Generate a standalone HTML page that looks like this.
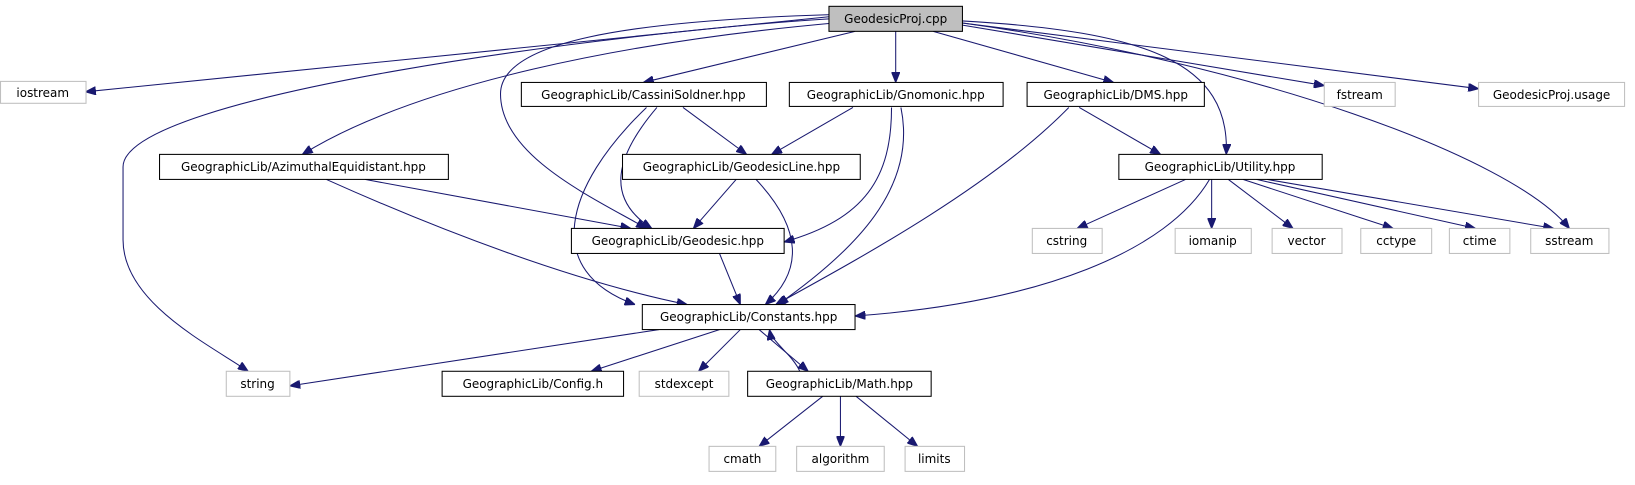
<!DOCTYPE html>
<html><head><meta charset="utf-8"><style>
html,body{margin:0;padding:0;background:#fff;}
svg{display:block;}
text{font-family:"DejaVu Sans","Liberation Sans",sans-serif;font-size:11.5px;fill:#000;}
.b{fill:#fff;stroke:#000;stroke-width:1;}
.g{fill:#fff;stroke:#bfbfbf;stroke-width:1;}
.e{fill:none;stroke:#191970;stroke-width:1;}
</style></head><body>
<svg width="1635" height="485" viewBox="0 0 1568 465" xmlns="http://www.w3.org/2000/svg">
<defs><marker id="a" viewBox="0 0 10 8" refX="10" refY="4" markerWidth="10" markerHeight="8" markerUnits="userSpaceOnUse" orient="auto"><path d="M0,0 L10,4 L0,8 z" fill="#191970" stroke="#191970"/></marker></defs>
<g class="e" marker-end="url(#a)">
<path d="M795,16 L82,88"/>
<path d="M795,18 C600,30 118,90 118,160 L118,230 C118,290 200,330 238,356"/>
<path d="M800,22 C600,40 400,80 290,148"/>
<path d="M797,14 C600,20 480,40 480,90 C480,150 570,190 620,219"/>
<path d="M820,30 L617,79"/>
<path d="M859,30 L859,79"/>
<path d="M895,30 L1068,79"/>
<path d="M923,20 C1100,30 1180,60 1176,148"/>
<path d="M923,22 C1200,60 1450,150 1505,219"/>
<path d="M923,24 L1270,82"/>
<path d="M923,22 L1418,85"/>
<path d="M655,103 L716,148"/>
<path d="M630,103 C590,150 580,190 625,219"/>
<path d="M620,103 C540,180 520,260 609,292"/>
<path d="M818,103 L740,148"/>
<path d="M855,103 C855,170 830,210 752,232"/>
<path d="M864,103 C880,180 820,240 746,292"/>
<path d="M706,172 L665,219"/>
<path d="M725,172 C770,220 770,260 734,292"/>
<path d="M1035,103 L1113,148"/>
<path d="M1025,103 C950,180 820,250 744,292"/>
<path d="M350,172 L605,219"/>
<path d="M313,172 C420,220 550,270 659,292"/>
<path d="M690,243 L710,292"/>
<path d="M1137,172 L1033,219"/>
<path d="M1162,172 L1162,219"/>
<path d="M1178,172 L1240,219"/>
<path d="M1192,172 L1336,219"/>
<path d="M1205,172 L1415,219"/>
<path d="M1215,172 L1490,219"/>
<path d="M1160,172 C1120,240 1000,290 820,303"/>
<path d="M632,316 L278,370"/>
<path d="M690,316 L567,356"/>
<path d="M710,316 L670,356"/>
<path d="M728,316 L775,356"/>
<path d="M767,356 C760,340 740,328 738,316"/>
<path d="M789,380 L728,428"/>
<path d="M806,380 L806,428"/>
<path d="M821,380 L880,428"/>
</g>
<rect x="795" y="6" width="128" height="24" fill="#bfbfbf" stroke="#000"/><text x="859" y="22" text-anchor="middle">GeodesicProj.cpp</text>
<rect class="g" x="0.5" y="78" width="82" height="21"/><text x="41" y="93" text-anchor="middle">iostream</text>
<rect class="b" x="500" y="79" width="235" height="23"/><text x="617" y="95" text-anchor="middle">GeographicLib/CassiniSoldner.hpp</text>
<rect class="b" x="757" y="79" width="205" height="23"/><text x="859" y="95" text-anchor="middle">GeographicLib/Gnomonic.hpp</text>
<rect class="b" x="985" y="79" width="170" height="23"/><text x="1070" y="95" text-anchor="middle">GeographicLib/DMS.hpp</text>
<rect class="g" x="1270" y="79" width="68" height="23"/><text x="1304" y="95" text-anchor="middle">fstream</text>
<rect class="g" x="1418" y="79" width="140" height="23"/><text x="1488" y="95" text-anchor="middle">GeodesicProj.usage</text>
<rect class="b" x="153" y="148" width="277" height="24"/><text x="291" y="164" text-anchor="middle">GeographicLib/AzimuthalEquidistant.hpp</text>
<rect class="b" x="597" y="148" width="228" height="24"/><text x="711" y="164" text-anchor="middle">GeographicLib/GeodesicLine.hpp</text>
<rect class="b" x="1073" y="148" width="195" height="24"/><text x="1170" y="164" text-anchor="middle">GeographicLib/Utility.hpp</text>
<rect class="b" x="548" y="219" width="204" height="24"/><text x="650" y="235" text-anchor="middle">GeographicLib/Geodesic.hpp</text>
<rect class="g" x="990" y="219" width="67" height="24"/><text x="1023" y="235" text-anchor="middle">cstring</text>
<rect class="g" x="1127" y="219" width="73" height="24"/><text x="1163" y="235" text-anchor="middle">iomanip</text>
<rect class="g" x="1220" y="219" width="67" height="24"/><text x="1253" y="235" text-anchor="middle">vector</text>
<rect class="g" x="1305" y="219" width="68" height="24"/><text x="1339" y="235" text-anchor="middle">cctype</text>
<rect class="g" x="1390" y="219" width="58" height="24"/><text x="1419" y="235" text-anchor="middle">ctime</text>
<rect class="g" x="1468" y="219" width="75" height="24"/><text x="1505" y="235" text-anchor="middle">sstream</text>
<rect class="b" x="616" y="292" width="204" height="24"/><text x="718" y="308" text-anchor="middle">GeographicLib/Constants.hpp</text>
<rect class="g" x="217" y="356" width="61" height="24"/><text x="247" y="372" text-anchor="middle">string</text>
<rect class="b" x="424" y="356" width="174" height="24"/><text x="511" y="372" text-anchor="middle">GeographicLib/Config.h</text>
<rect class="g" x="613" y="356" width="86" height="24"/><text x="656" y="372" text-anchor="middle">stdexcept</text>
<rect class="b" x="717" y="356" width="176" height="24"/><text x="805" y="372" text-anchor="middle">GeographicLib/Math.hpp</text>
<rect class="g" x="680" y="428" width="64" height="24"/><text x="712" y="444" text-anchor="middle">cmath</text>
<rect class="g" x="764" y="428" width="84" height="24"/><text x="806" y="444" text-anchor="middle">algorithm</text>
<rect class="g" x="868" y="428" width="57" height="24"/><text x="896" y="444" text-anchor="middle">limits</text>
</svg>
</body></html>
